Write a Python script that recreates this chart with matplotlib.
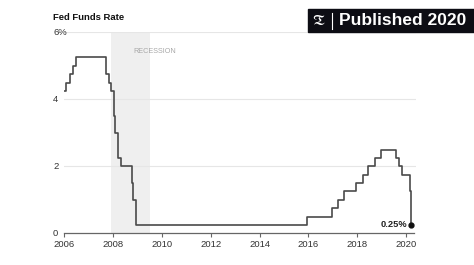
import matplotlib
matplotlib.use("Agg")
import matplotlib.pyplot as plt
from matplotlib.patches import Rectangle
from matplotlib.transforms import blended_transform_factory

plt.rcParams["font.family"] = ["Liberation Sans", "DejaVu Sans"]

# ─── Data: fed funds target rate (upper bound), decimal years ───
change_dates = [2006.00, 2006.08, 2006.24, 2006.36, 2006.49,
                2007.71, 2007.83, 2007.94, 2008.06, 2008.08, 2008.21, 2008.33,
                2008.77, 2008.82, 2008.96,
                2015.96, 2016.95, 2017.20, 2017.45, 2017.95, 2018.22, 2018.45,
                2018.74, 2018.97, 2019.58, 2019.71, 2019.83, 2020.17, 2020.20]
rates = [4.25, 4.50, 4.75, 5.00, 5.25,
         4.75, 4.50, 4.25, 3.50, 3.00, 2.25, 2.00,
         1.50, 1.00, 0.25,
         0.50, 0.75, 1.00, 1.25, 1.50, 1.75, 2.00,
         2.25, 2.50, 2.25, 2.00, 1.75, 1.25, 0.25]
recession = (2007.92, 2009.50)
x_ticks = [2006, 2008, 2010, 2012, 2014, 2016, 2018, 2020]
y_ticks = [0, 2, 4, 6]
y_labels = ["0", "2", "4", "6%"]

fig = plt.figure(figsize=(4.74, 2.65), dpi=100)
fig.patch.set_facecolor("white")
ax = fig.add_axes([64 / 474, 31.7 / 265, 352 / 474, 201 / 265])

ax.axvspan(*recession, color="#efefef", lw=0, zorder=0)
ax.text(recession[0] + 0.9, 5.43, "RECESSION", fontsize=5.2, color="#a8a8a8",
        ha="left", va="center")

for y in y_ticks[1:]:
    ax.axhline(y, color="#e6e6e6", lw=0.8, zorder=1)

ax.step(change_dates, rates, where="post", color="#4a4a4a", lw=1.2, zorder=3)
ax.plot(change_dates[-1], rates[-1], "o", color="#111111", ms=3.5, zorder=4)
ax.text(change_dates[-1] - 0.14, rates[-1], f"{rates[-1]:.2f}%", fontsize=6.7,
        fontweight="bold", color="#222222", ha="right", va="center")

ax.set_xlim(2006, 2020.4)
ax.set_ylim(0, 6)
for s in ["top", "right", "left"]:
    ax.spines[s].set_visible(False)
ax.spines["bottom"].set_color("#666666")
ax.spines["bottom"].set_linewidth(0.9)
ax.spines["bottom"].set_bounds(2006, 2020.3)

ax.set_xticks(x_ticks)
ax.set_xticklabels([str(t) for t in x_ticks], fontsize=6.8, color="#333333")
ax.tick_params(axis="x", length=3, width=0.8, color="#666666", pad=2)
ax.set_yticks([])

trans = blended_transform_factory(ax.transAxes, ax.transData)
for y, lab in zip(y_ticks, y_labels):
    ax.text(-0.031, y, lab, transform=trans, fontsize=6.8, color="#333333",
            ha="left", va="center")

fig.text(53 / 474, 1 - 17 / 265, "Fed Funds Rate", fontsize=6.8, fontweight="bold",
         color="#111111", ha="left", va="center")

# Badge
fig.patches.append(Rectangle((308 / 474, 1 - 32.3 / 265), 1 - 308 / 474, 23.6 / 265,
                             transform=fig.transFigure, color="#0d0d14", zorder=5))
fig.text(319 / 474, 1 - 20.5 / 265, r"$\mathfrak{T}$", fontsize=11.5, color="white",
         ha="center", va="center", zorder=6)
fig.lines.append(plt.Line2D([331.7 / 474, 331.7 / 474], [1 - 13 / 265, 1 - 29 / 265],
                            transform=fig.transFigure, color="white", lw=0.8, zorder=6))
fig.text(339 / 474, 1 - 20.5 / 265, "Published 2020", fontsize=12.5, fontweight="bold",
         color="white", ha="left", va="center", zorder=6)

plt.savefig("out.png", dpi=100)
plt.close()
